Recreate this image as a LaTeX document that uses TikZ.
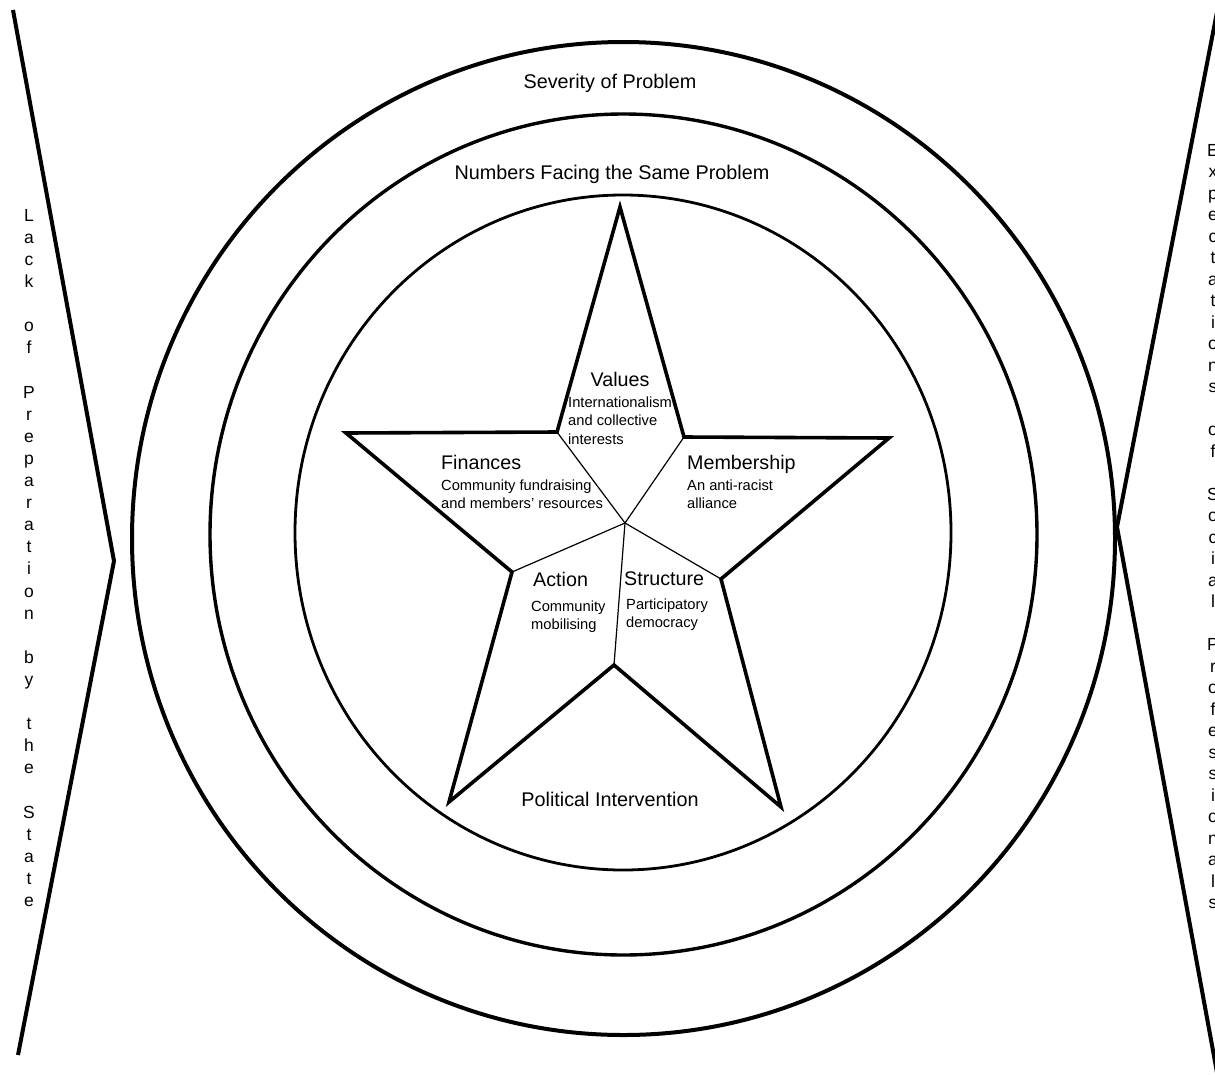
\documentclass[tikz,border=0pt]{standalone}
\usepackage{fontspec}
\setmainfont{Liberation Sans}
\newcommand\vl[1]{\hbox to 20pt{\hss#1\hss}}
\newcommand\bl[1]{\hbox{#1}}
\begin{document}
\begin{tikzpicture}[x=1pt,y=-1pt,
  sideline/.style={line width=4pt},
  ringA/.style={line width=4pt},
  ringB/.style={line width=3.4pt},
  ringC/.style={line width=2.8pt},
  starline/.style={line width=3.6pt, line join=miter},
  divider/.style={line width=1.2pt},
  ringlabel/.style={inner sep=0, anchor=base, font=\fontsize{19.8}{23}\selectfont},
  head/.style={font=\fontsize{19.7}{23}\selectfont, inner sep=0, anchor=base west},
  body/.style={font=\fontsize{14.7}{18.5}\selectfont, inner sep=0, anchor=base west},
  vert/.style={inner sep=0, anchor=base}]
\useasboundingbox (0,0) rectangle (1215,1074);

% side lines
\coordinate (lt) at (13,10);
\coordinate (lv) at (114,561);
\coordinate (lb) at (18,1055);
\coordinate (rt) at (1217,12);
\coordinate (rv) at (1117,527);
\coordinate (rb) at (1218,1078);
\draw[sideline] (lt) -- (lv) -- (lb);
\draw[sideline] (rt) -- (rv) -- (rb);

% rings
\draw[ringA] (623.5,538.5) ellipse [x radius=491.5pt, y radius=496.5pt];
\draw[ringB] (623.5,534.5) ellipse [x radius=413.5pt, y radius=420.5pt];
\draw[ringC] (623,532.5) ellipse [x radius=328pt, y radius=337.5pt];

% star
\coordinate (T) at (620,207);
\coordinate (UR) at (684,437);
\coordinate (R) at (889,438);
\coordinate (LR) at (721,579);
\coordinate (BR) at (781,807);
\coordinate (B) at (614,665);
\coordinate (BL) at (449,802);
\coordinate (LL) at (512,572);
\coordinate (L) at (346,433);
\coordinate (UL) at (557,432);
\coordinate (C) at (625,523);
\draw[starline] (T) -- (UR) -- (R) -- (LR) -- (BR) -- (B) -- (BL) -- (LL) -- (L) -- (UL) -- cycle;
\draw[divider] (C) -- (UL);
\draw[divider] (C) -- (UR);
\draw[divider] (C) -- (LL);
\draw[divider] (C) -- (LR);
\draw[divider] (C) -- (B);

% ring labels
\node[ringlabel] (sev) at (610,88.5) {Severity of Problem};
\node[ringlabel] (num) at (612,179) {Numbers Facing the Same Problem};
\node[ringlabel] (pol) at (610,806) {Political Intervention};

% star labels
\node[head, anchor=base] (valh) at (620,386) {Values};
\node[body] (valb) at (568,407) {\vtop{\bl{Internationalism}\bl{and collective}\bl{interests}}};
\node[head] (finh) at (441,469) {Finances};
\node[body] (finb) at (441,490) {\vtop{\bl{Community fundraising}\bl{and members' resources}}};
\node[head] (memh) at (687,469) {Membership};
\node[body] (memb) at (687,490) {\vtop{\bl{An anti-racist}\bl{alliance}}};
\node[head] (acth) at (533,586) {Action};
\node[body] (actb) at (531,611) {\vtop{\bl{Community}\bl{mobilising}}};
\node[head] (strh) at (624,585) {Structure};
\node[body] (strb) at (626,609) {\vtop{\bl{Participatory}\bl{democracy}}};

% vertical side texts
\node[vert, font=\fontsize{17.5}{22.1}\selectfont] (lack) at (29,221.3) {\vtop{\vl{L}\vl{a}\vl{c}\vl{k}\vl{}\vl{o}\vl{f}\vl{}\vl{P}\vl{r}\vl{e}\vl{p}\vl{a}\vl{r}\vl{a}\vl{t}\vl{i}\vl{o}\vl{n}\vl{}\vl{b}\vl{y}\vl{}\vl{t}\vl{h}\vl{e}\vl{}\vl{S}\vl{t}\vl{a}\vl{t}\vl{e}}};
\node[vert, font=\fontsize{17.5}{21.5}\selectfont] (expect) at (1213,156.3) {\vtop{\vl{E}\vl{x}\vl{p}\vl{e}\vl{c}\vl{t}\vl{a}\vl{t}\vl{i}\vl{o}\vl{n}\vl{s}\vl{}\vl{o}\vl{f}\vl{}\vl{S}\vl{o}\vl{c}\vl{i}\vl{a}\vl{l}\vl{}\vl{P}\vl{r}\vl{o}\vl{f}\vl{e}\vl{s}\vl{s}\vl{i}\vl{o}\vl{n}\vl{a}\vl{l}\vl{s}}};
\end{tikzpicture}
\end{document}
